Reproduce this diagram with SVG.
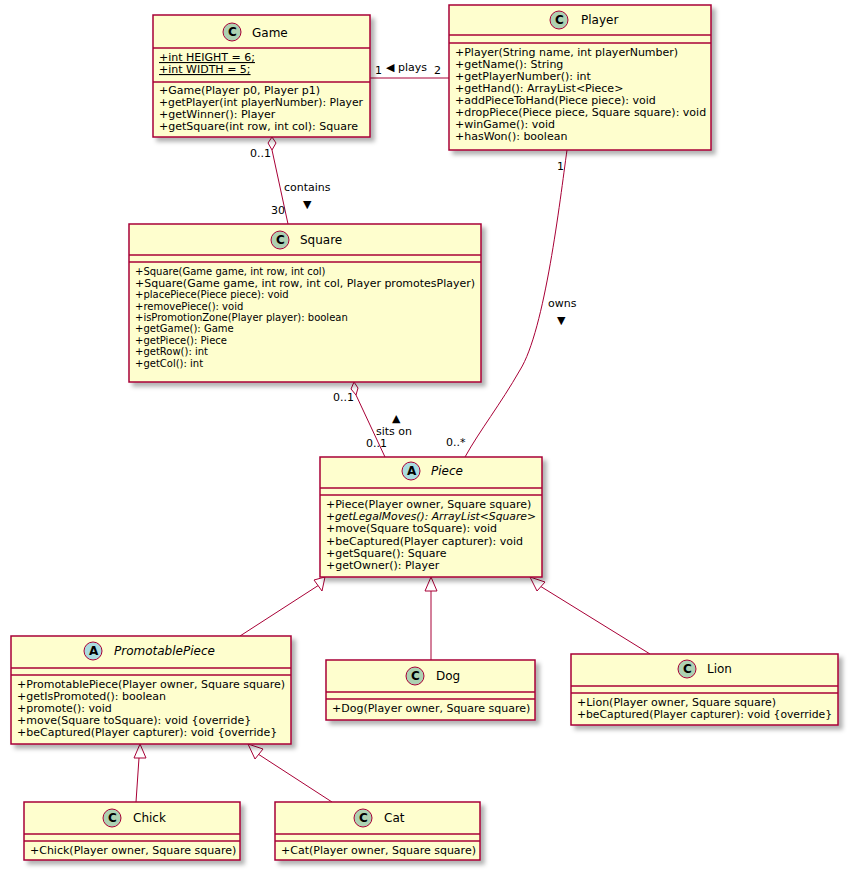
<svg xmlns="http://www.w3.org/2000/svg" width="851" height="871" viewBox="0 0 851 871">
<defs>
<filter id="sh" x="-10%" y="-10%" width="130%" height="130%"><feDropShadow dx="4" dy="4" stdDeviation="2" flood-color="#000" flood-opacity="0.3"/></filter>
<style>
.box{fill:#FEFECE;stroke:#A80036;stroke-width:1.5;filter:url(#sh)}
.sep{stroke:#A80036;stroke-width:1.5}
.m{font-family:"DejaVu Sans",sans-serif;font-size:11px;fill:#000}
.s{font-size:10px}
.t{font-family:"DejaVu Sans",sans-serif;font-size:12px;fill:#000}
.i{font-style:italic}
.c{fill:#ADD1B2;stroke:#A80036;stroke-width:1}
.a{fill:#A9DCDF;stroke:#A80036;stroke-width:1}
.l{font-family:"DejaVu Sans",sans-serif;font-size:11px;fill:#000}
.e{fill:none;stroke:#A80036;stroke-width:1}
.g{font-family:"DejaVu Sans",sans-serif;font-size:12px;font-weight:bold;fill:#000}
</style>
</defs>
<g id="connectors">
<line class="e" x1="370" y1="78" x2="449" y2="78"/>
<text class="l" x="375" y="74">1</text>
<text class="l" x="386" y="71">◀ plays</text>
<text class="l" x="434" y="74">2</text>
<polygon points="272,137 276,143 272,150 268,143" fill="#fff" stroke="#A80036"/>
<line class="e" x1="272" y1="150" x2="288" y2="224"/>
<text class="l" x="250" y="157">0..1</text>
<text class="l" x="284" y="191">contains</text>
<text class="l" x="303" y="208">▼</text>
<text class="l" x="271" y="214">30</text>
<polygon points="354,382 358,388 356,395 351,389" fill="#fff" stroke="#A80036"/>
<line class="e" x1="356" y1="395" x2="385" y2="457"/>
<text class="l" x="333" y="401">0..1</text>
<text class="l" x="392" y="422">▲</text>
<text class="l" x="376" y="435">sits on</text>
<text class="l" x="366" y="447">0..1</text>
<path class="e" d="M567,150 C560,200 545,330 520,370 C500,405 480,430 465,457"/>
<text class="l" x="557" y="170">1</text>
<text class="l" x="548" y="307">owns</text>
<text class="l" x="557" y="324">▼</text>
<text class="l" x="446" y="446">0..*</text>
<line class="e" x1="319" y1="585" x2="240" y2="636"/>
<polygon points="325,577 322,591 314,580" fill="#fff" stroke="#A80036"/>
<line class="e" x1="431" y1="591" x2="431" y2="660"/>
<polygon points="431,577 437,591 425,591" fill="#fff" stroke="#A80036"/>
<line class="e" x1="540" y1="586" x2="650" y2="654"/>
<polygon points="530,577 545,582 537,591" fill="#fff" stroke="#A80036"/>
<line class="e" x1="139" y1="758" x2="136" y2="802"/>
<polygon points="140,744 146,758 134,758" fill="#fff" stroke="#A80036"/>
<line class="e" x1="258" y1="754" x2="332" y2="802"/>
<polygon points="248,744 263,749 255,759" fill="#fff" stroke="#A80036"/>
</g>
<g id="Game">
<rect class="box" x="153" y="15" width="217" height="122"/>
<circle class="c" cx="232" cy="32" r="9"/><text class="g" x="228" y="36">C</text>
<text class="t" x="252" y="37">Game</text>
<line class="sep" x1="153" y1="48" x2="370" y2="48"/>
<text class="m" x="159" y="61" text-decoration="underline">+int HEIGHT = 6;</text>
<text class="m" x="159" y="73" text-decoration="underline">+int WIDTH = 5;</text>
<line class="sep" x1="153" y1="82" x2="370" y2="82"/>
<text class="m" x="159" y="94">+Game(Player p0, Player p1)</text>
<text class="m" x="159" y="106" textLength="204" lengthAdjust="spacingAndGlyphs">+getPlayer(int playerNumber): Player</text>
<text class="m" x="159" y="118">+getWinner(): Player</text>
<text class="m" x="159" y="130">+getSquare(int row, int col): Square</text>
</g>
<g id="Player">
<rect class="box" x="449" y="5" width="262" height="145"/>
<circle class="c" cx="559" cy="20" r="9"/><text class="g" x="555" y="24">C</text>
<text class="t" x="581" y="24">Player</text>
<line class="sep" x1="449" y1="35" x2="711" y2="35"/>
<line class="sep" x1="449" y1="43" x2="711" y2="43"/>
<text class="m" x="455" y="56">+Player(String name, int playerNumber)</text>
<text class="m" x="455" y="68">+getName(): String</text>
<text class="m" x="455" y="80">+getPlayerNumber(): int</text>
<text class="m" x="455" y="92">+getHand(): ArrayList&lt;Piece&gt;</text>
<text class="m" x="455" y="104">+addPieceToHand(Piece piece): void</text>
<text class="m" x="455" y="116">+dropPiece(Piece piece, Square square): void</text>
<text class="m" x="455" y="128">+winGame(): void</text>
<text class="m" x="455" y="140">+hasWon(): boolean</text>
</g>
<g id="Square">
<rect class="box" x="129" y="224" width="352" height="158"/>
<circle class="c" cx="280" cy="240" r="9"/><text class="g" x="276" y="244">C</text>
<text class="t" x="300" y="244">Square</text>
<line class="sep" x1="129" y1="255" x2="481" y2="255"/>
<line class="sep" x1="129" y1="262" x2="481" y2="262"/>
<text class="m s" x="135" y="275">+Square(Game game, int row, int col)</text>
<text class="m s" x="135" y="287" textLength="340" lengthAdjust="spacingAndGlyphs">+Square(Game game, int row, int col, Player promotesPlayer)</text>
<text class="m s" x="135" y="298">+placePiece(Piece piece): void</text>
<text class="m s" x="135" y="310">+removePiece(): void</text>
<text class="m s" x="135" y="321">+isPromotionZone(Player player): boolean</text>
<text class="m s" x="135" y="332">+getGame(): Game</text>
<text class="m s" x="135" y="344">+getPiece(): Piece</text>
<text class="m s" x="135" y="355">+getRow(): int</text>
<text class="m s" x="135" y="367">+getCol(): int</text>
</g>
<g id="Piece">
<rect class="box" x="320" y="457" width="222" height="120"/>
<circle class="a" cx="411" cy="471" r="9"/><text class="g" x="407" y="475">A</text>
<text class="t i" x="431" y="475">Piece</text>
<line class="sep" x1="320" y1="488" x2="542" y2="488"/>
<line class="sep" x1="320" y1="495" x2="542" y2="495"/>
<text class="m" x="326" y="508">+Piece(Player owner, Square square)</text>
<text class="m i" x="326" y="520" textLength="210" lengthAdjust="spacingAndGlyphs">+getLegalMoves(): ArrayList&lt;Square&gt;</text>
<text class="m" x="326" y="532">+move(Square toSquare): void</text>
<text class="m" x="326" y="545">+beCaptured(Player capturer): void</text>
<text class="m" x="326" y="557">+getSquare(): Square</text>
<text class="m" x="326" y="569">+getOwner(): Player</text>
</g>
<g id="PromotablePiece">
<rect class="box" x="11" y="636" width="280" height="108"/>
<circle class="a" cx="93" cy="651" r="9"/><text class="g" x="89" y="655">A</text>
<text class="t i" x="114" y="655">PromotablePiece</text>
<line class="sep" x1="11" y1="668" x2="291" y2="668"/>
<line class="sep" x1="11" y1="675" x2="291" y2="675"/>
<text class="m" x="17" y="688">+PromotablePiece(Player owner, Square square)</text>
<text class="m" x="17" y="700">+getIsPromoted(): boolean</text>
<text class="m" x="17" y="712">+promote(): void</text>
<text class="m" x="17" y="724">+move(Square toSquare): void {override}</text>
<text class="m" x="17" y="736">+beCaptured(Player capturer): void {override}</text>
</g>
<g id="Dog">
<rect class="box" x="326" y="660" width="209" height="60"/>
<circle class="c" cx="415" cy="676" r="9"/><text class="g" x="411" y="680">C</text>
<text class="t" x="436" y="680">Dog</text>
<line class="sep" x1="326" y1="692" x2="535" y2="692"/>
<line class="sep" x1="326" y1="699" x2="535" y2="699"/>
<text class="m" x="332" y="712">+Dog(Player owner, Square square)</text>
</g>
<g id="Lion">
<rect class="box" x="571" y="654" width="267" height="71"/>
<circle class="c" cx="687" cy="669" r="9"/><text class="g" x="683" y="673">C</text>
<text class="t" x="707" y="673">Lion</text>
<line class="sep" x1="571" y1="686" x2="838" y2="686"/>
<line class="sep" x1="571" y1="693" x2="838" y2="693"/>
<text class="m" x="577" y="706">+Lion(Player owner, Square square)</text>
<text class="m" x="577" y="718" textLength="255" lengthAdjust="spacingAndGlyphs">+beCaptured(Player capturer): void {override}</text>
</g>
<g id="Chick">
<rect class="box" x="24" y="802" width="216" height="58"/>
<circle class="c" cx="112" cy="818" r="9"/><text class="g" x="108" y="822">C</text>
<text class="t" x="133" y="822">Chick</text>
<line class="sep" x1="24" y1="834" x2="240" y2="834"/>
<line class="sep" x1="24" y1="841" x2="240" y2="841"/>
<text class="m" x="30" y="854">+Chick(Player owner, Square square)</text>
</g>
<g id="Cat">
<rect class="box" x="275" y="802" width="205" height="58"/>
<circle class="c" cx="363" cy="818" r="9"/><text class="g" x="359" y="822">C</text>
<text class="t" x="384" y="822">Cat</text>
<line class="sep" x1="275" y1="834" x2="480" y2="834"/>
<line class="sep" x1="275" y1="841" x2="480" y2="841"/>
<text class="m" x="281" y="854">+Cat(Player owner, Square square)</text>
</g>
</svg>
